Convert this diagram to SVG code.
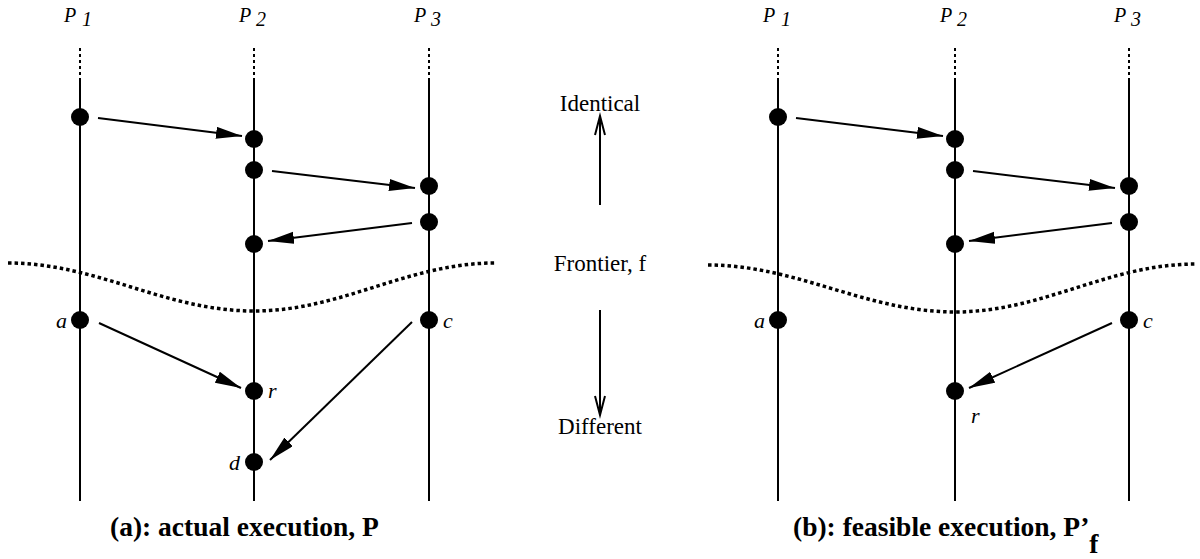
<svg xmlns="http://www.w3.org/2000/svg" width="1200" height="559" viewBox="0 0 1200 559">
<style>
  .proc{stroke:#000;stroke-width:2;fill:none}
  .dots{stroke:#000;stroke-width:2;stroke-dasharray:3 3;fill:none}
  .front{stroke:#000;stroke-width:3.5;stroke-dasharray:3.5 3;fill:none}
  .msg{stroke:#000;stroke-width:2;fill:none;marker-end:url(#ah)}
  .ev{fill:#000}
  .open{stroke:#000;stroke-width:2;fill:none}
  text{font-family:'Liberation Serif','Times New Roman',serif;fill:#000}
  .plbl{font-style:italic;font-size:20px}
  .lbl{font-style:italic;font-size:22px}
  .mid{font-size:23px}
  .cap{font-weight:bold;font-size:27.5px}
</style>
<defs>
  <marker id="ah" markerUnits="userSpaceOnUse" markerWidth="28" markerHeight="14" refX="26" refY="6" orient="auto">
    <path d="M0,0 L26,6 L0,12 z" fill="#000"/>
  </marker>
</defs>

<!-- Panel (a) -->
<g id="a-processes">
  <text class="plbl" x="64" y="22">P<tspan x="82" y="26">1</tspan></text>
  <text class="plbl" x="239" y="22">P<tspan x="256" y="26">2</tspan></text>
  <text class="plbl" x="414" y="22">P<tspan x="431" y="26">3</tspan></text>
  <path class="dots" d="M80,48 V80 M254,48 V80 M429,48 V80"/>
  <path class="proc" d="M80,80 V501 M254,80 V501 M429,80 V501"/>
</g>
<g id="a-frontier">
  <path class="front" d="M8,263 C97.6,263 164.4,311 254,311 C341.8,311 407.2,263 495,263"/>
</g>
<g id="a-events">
  <circle class="ev" cx="80" cy="117" r="9"/>
  <circle class="ev" cx="254" cy="139" r="9"/>
  <circle class="ev" cx="254" cy="170" r="9"/>
  <circle class="ev" cx="254" cy="244" r="9"/>
  <circle class="ev" cx="429" cy="186" r="9"/>
  <circle class="ev" cx="429" cy="222" r="9"/>
  <circle class="ev" cx="80" cy="320" r="9"/>
  <circle class="ev" cx="429" cy="320" r="9"/>
  <circle class="ev" cx="254" cy="391" r="9"/>
  <circle class="ev" cx="254" cy="462" r="9"/>
  <text class="lbl" x="56" y="328">a</text>
  <text class="lbl" x="443" y="328">c</text>
  <text class="lbl" x="268" y="398">r</text>
  <text class="lbl" x="229" y="470">d</text>
</g>
<g id="a-connectors">
  <line class="msg" x1="98" y1="118" x2="242" y2="136"/>
  <line class="msg" x1="272" y1="171" x2="415" y2="188"/>
  <line class="msg" x1="412" y1="223" x2="268" y2="241"/>
  <line class="msg" x1="99" y1="323" x2="241" y2="388"/>
  <line class="msg" x1="412" y1="322" x2="270" y2="460"/>
</g>

<!-- Middle -->
<g id="middle">
  <text class="mid" x="600" y="111" text-anchor="middle">Identical</text>
  <text class="mid" x="600" y="271" text-anchor="middle">Frontier, f</text>
  <text class="mid" x="600" y="434" text-anchor="middle">Different</text>
  <path class="open" d="M600,205 V116 M595,135 L600,116 L605,135"/>
  <path class="open" d="M600,310 V415 M595,396 L600,415 L605,396"/>
</g>

<!-- Panel (b) -->
<g id="b-processes">
  <text class="plbl" x="763" y="22">P<tspan x="781" y="26">1</tspan></text>
  <text class="plbl" x="940" y="22">P<tspan x="957" y="26">2</tspan></text>
  <text class="plbl" x="1114" y="22">P<tspan x="1131" y="26">3</tspan></text>
  <path class="dots" d="M778,48 V80 M955,48 V80 M1129,48 V80"/>
  <path class="proc" d="M778,80 V501 M955,80 V501 M1129,80 V501"/>
</g>
<g id="b-frontier">
  <path class="front" d="M708,265 C797,265 866,312 955,312 C1043,312 1108,264 1196,264"/>
</g>
<g id="b-events">
  <circle class="ev" cx="778" cy="117" r="9"/>
  <circle class="ev" cx="955" cy="139" r="9"/>
  <circle class="ev" cx="955" cy="170" r="9"/>
  <circle class="ev" cx="955" cy="244" r="9"/>
  <circle class="ev" cx="1129" cy="186" r="9"/>
  <circle class="ev" cx="1129" cy="222" r="9"/>
  <circle class="ev" cx="778" cy="320" r="9"/>
  <circle class="ev" cx="1129" cy="320" r="9"/>
  <circle class="ev" cx="955" cy="391" r="9"/>
  <text class="lbl" x="754" y="328">a</text>
  <text class="lbl" x="1143" y="328">c</text>
  <text class="lbl" x="971" y="423">r</text>
</g>
<g id="b-connectors">
  <line class="msg" x1="796" y1="118" x2="943" y2="136"/>
  <line class="msg" x1="973" y1="171" x2="1115" y2="188"/>
  <line class="msg" x1="1112" y1="223" x2="969" y2="241"/>
  <line class="msg" x1="1112" y1="323" x2="969" y2="388"/>
</g>

<!-- Captions -->
<text class="cap" x="110" y="536">(a): actual execution, P</text>
<text class="cap" x="793" y="536">(b): feasible execution, P’<tspan y="553">f</tspan></text>
</svg>
